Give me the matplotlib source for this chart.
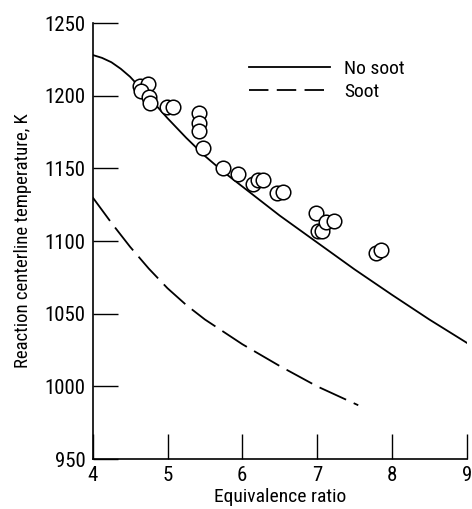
import matplotlib
matplotlib.use("Agg")
import matplotlib.pyplot as plt
from matplotlib.lines import Line2D
from matplotlib import font_manager as fm

# pick a narrow font if one is installed
fam = 'DejaVu Sans'
stretch = 'normal'
names = {(f.name, f.stretch, f.fname) for f in fm.fontManager.ttflist}
cands = [n for n in names if 'narrow' in n[2].lower() or 'condensed' in n[2].lower()]
pref = ['Liberation Sans Narrow', 'Roboto Condensed', 'DejaVu Sans', 'Open Sans', 'Noto Sans']
chosen = None
for p in pref:
    for n in cands:
        if n[0] == p and 'bold' not in n[2].lower() and 'oblique' not in n[2].lower() and 'italic' not in n[2].lower():
            chosen = n
            break
    if chosen:
        break
if chosen is None and cands:
    for n in cands:
        low = n[2].lower()
        if 'bold' not in low and 'italic' not in low and 'oblique' not in low and 'light' not in low:
            chosen = n
            break
if chosen:
    fam, stretch = chosen[0], 'condensed'
plt.rcParams['font.family'] = [fam, 'DejaVu Sans']
plt.rcParams['font.stretch'] = stretch
plt.rcParams['lines.scale_dashes'] = False

# Data
nosoot_x = [4.0, 4.125, 4.25, 4.375, 4.5, 4.75, 5.0, 5.25, 5.5, 5.75, 6.0, 6.5, 7.0, 7.5, 8.0, 8.5, 9.0]
nosoot_y = [1228, 1226, 1223, 1218.5, 1213, 1199, 1184.5, 1171, 1158.5, 1147.5, 1137.5, 1117.5, 1099, 1080.5, 1063, 1046, 1030]
soot_x = [4.0, 4.25, 4.5, 4.75, 5.0, 5.25, 5.5, 6.0, 6.5, 7.0, 7.55]
soot_y = [1130, 1112.5, 1096, 1081, 1067.5, 1056, 1046, 1029, 1014, 1000, 987]
pts_x = [4.63, 4.74, 4.65, 4.75, 4.76, 4.99, 5.07, 5.42, 5.42, 5.42, 5.47,
         5.74, 5.94, 6.14, 6.21, 6.27, 6.47, 6.55, 6.99, 7.01, 7.07, 7.12,
         7.23, 7.79, 7.85]
pts_y = [1207, 1208, 1203, 1199, 1195, 1192, 1192, 1188, 1181, 1176, 1164,
         1150, 1146, 1139, 1142, 1142, 1133, 1134, 1119, 1107, 1107, 1113,
         1114, 1092, 1094]
xticks = [4, 5, 6, 7, 8, 9]
yticks = [950, 1000, 1050, 1100, 1150, 1200, 1250]

fig = plt.figure(figsize=(4.72, 5.09), dpi=100)
ax = fig.add_axes([0.1964, 0.0982, 0.7924, 0.8566])

ax.plot(nosoot_x, nosoot_y, color='black', lw=1.3)
ax.plot(soot_x, soot_y, color='black', lw=1.3, dashes=(21, 6))
ax.plot(pts_x, pts_y, linestyle='none', marker='o', ms=10.5, mfc='white',
        mec='black', mew=1.1)

ax.set_xlim(4, 9)
ax.set_ylim(950, 1250)
ax.set_xticks(xticks)
ax.set_yticks(yticks)
ax.tick_params(direction='in', length=18, width=1, labelsize=15, pad=5)
ax.spines['top'].set_visible(False)
ax.spines['right'].set_visible(False)
for s in ['left', 'bottom']:
    ax.spines[s].set_linewidth(1.2)

ax.set_xlabel('Equivalence ratio', fontsize=14, labelpad=2)
ax.set_ylabel('Reaction centerline temperature, K', fontsize=13.5, labelpad=9)

handles = [Line2D([], [], color='black', lw=1.3),
           Line2D([], [], color='black', lw=1.3, dashes=(14, 6))]
leg = ax.legend(handles, ['No soot', 'Soot'], loc='upper left',
                bbox_to_anchor=(0.37, 0.955), frameon=False, fontsize=14,
                handlelength=4.2, handletextpad=0.7, labelspacing=0.25)

fig.savefig('out.png', dpi=100)
